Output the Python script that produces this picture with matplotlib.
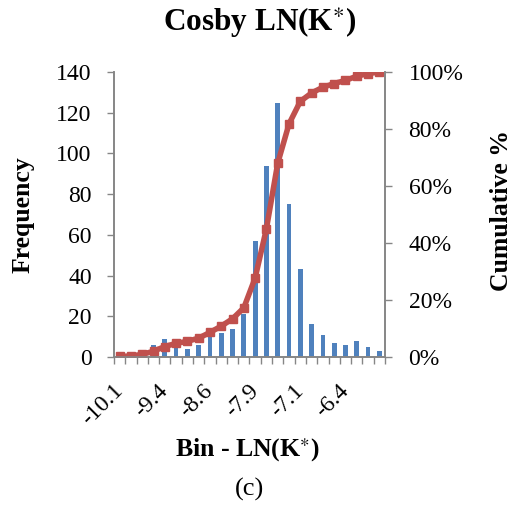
import numpy as np
import matplotlib
matplotlib.use("Agg")
from matplotlib import pyplot as plt
from matplotlib.ticker import FixedLocator, PercentFormatter

plt.rcParams['font.family'] = ['Liberation Serif', 'DejaVu Serif']
plt.rcParams['mathtext.fontset'] = 'stix'

# histogram bins (upper bound of each bin, LN(K*))
bin_labels = ['-10.1', '-9.9', '-9.7', '-9.5', '-9.4', '-9.2', '-9.0', '-8.8',
              '-8.6', '-8.4', '-8.2', '-8.0', '-7.9', '-7.7', '-7.5', '-7.3',
              '-7.1', '-6.9', '-6.7', '-6.5', '-6.4', '-6.2', '-6.0', '-5.8']
frequency = [1, 1, 3, 6, 9, 6, 4, 6, 11, 12, 14, 21, 57, 94, 125, 75,
             43, 16, 11, 7, 6, 8, 5, 3]
cumulative = [0.0018, 0.0037, 0.0092, 0.0202, 0.0368, 0.0478, 0.0551, 0.0662,
              0.0864, 0.1085, 0.1342, 0.1728, 0.2776, 0.4504, 0.6801, 0.8180,
              0.8971, 0.9265, 0.9467, 0.9596, 0.9706, 0.9853, 0.9945, 1.0]

blue = '#4F81BD'
red = '#C0504D'
grey = '#868686'

fig = plt.figure(figsize=(5.13, 5.09), dpi=100)
ax1 = fig.add_axes([0.2222, 0.2986, 0.5283, 0.5599])
ax2 = ax1.twinx()

xx = np.arange(len(frequency))
ax1.bar(xx, frequency, width=0.42, color=blue, zorder=2)
ax1.set_xlim(-0.5, len(frequency) - 0.5)
ax1.set_ylim(0, 140)
ax1.set_yticks(np.arange(0, 141, 20))

ax2.plot(xx, cumulative, color=red, lw=4, marker='s', ms=5.5,
         solid_joinstyle='round', solid_capstyle='round')
ax2.set_ylim(0, 1)
ax2.set_yticks(np.arange(0, 1.01, 0.2))
ax2.yaxis.set_major_formatter(PercentFormatter(1.0, decimals=0))

# label every fourth bin, tick marks on bin boundaries
ax1.set_xticks(xx[::4])
ax1.set_xticklabels(bin_labels[::4], rotation=45, ha='right', va='center',
                    rotation_mode='anchor', fontsize=17)
ax1.xaxis.set_minor_locator(FixedLocator(np.arange(-0.5, len(frequency), 1)))
ax1.tick_params(axis='x', which='major', length=0, pad=22)
ax1.tick_params(axis='x', which='minor', length=5, color=grey, width=1)

ax1.tick_params(axis='y', length=5, color=grey, width=1, pad=11, labelsize=17)
ax2.tick_params(axis='y', length=5, color=grey, width=1, pad=12, labelsize=17)

for ax in (ax1, ax2):
    ax.spines['top'].set_visible(False)
    for side in ('left', 'right', 'bottom'):
        ax.spines[side].set_color(grey)
        ax.spines[side].set_linewidth(1.2)

fig.text(0.507, 0.957, r'Cosby LN(K$^{\ast}$)', ha='center', va='center',
         fontsize=22.5, fontweight='bold')
fig.text(0.045, 0.578, 'Frequency', rotation=90, ha='center', va='center',
         fontsize=18.5, fontweight='bold')
fig.text(0.978, 0.587, 'Cumulative %', rotation=90, ha='center', va='center',
         fontsize=18.5, fontweight='bold')
fig.text(0.483, 0.115, r'Bin - LN(K$^{\ast}$)', ha='center', va='center',
         fontsize=18.5, fontweight='bold')
fig.text(0.487, 0.038, '(c)', ha='center', va='center', fontsize=19)

fig.savefig('out.png', dpi=100)
